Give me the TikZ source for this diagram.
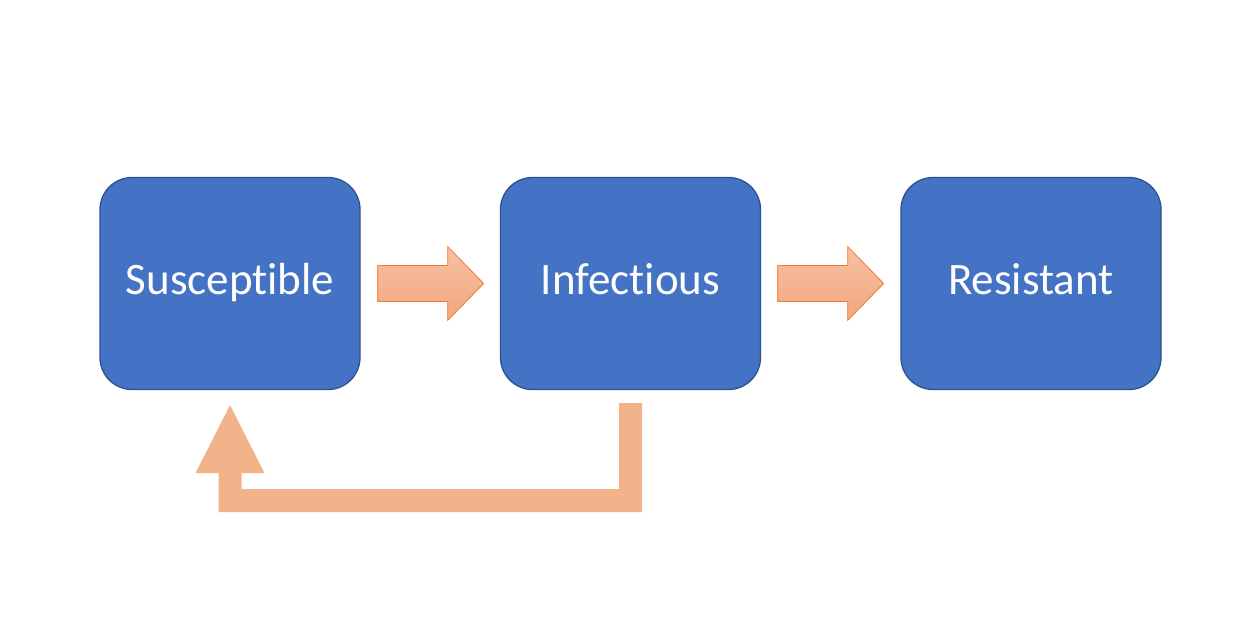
\documentclass[tikz,border=0pt]{standalone}
\usepackage{fontspec}
\setmainfont[Ligatures=NoCommon]{Carlito}
\usetikzlibrary{calc}
\definecolor{boxfill}{HTML}{4472C4}
\definecolor{boxline}{HTML}{2F528F}
\definecolor{arrline}{HTML}{ED7D31}
\definecolor{arrtop}{HTML}{F7C1A3}
\definecolor{arrbot}{HTML}{F3A680}
\definecolor{loopc}{HTML}{F2B38A}
\begin{document}
\begin{tikzpicture}[x=1pt,y=-1pt,
  box/.style={draw=boxline, line width=1.3pt, fill=boxfill, rounded corners=32pt,
    minimum width=260pt, minimum height=212pt, text=white,
    font=\fontsize{45}{54}\selectfont, inner sep=0pt, text height=21pt, text depth=0pt},
  blockarrow/.style={draw=arrline, line width=0.8pt, top color=arrtop, bottom color=arrbot},
  looparrow/.style={fill=loopc, draw=none}]
\useasboundingbox[fill=white] (0,0) rectangle (1256,632);
\node[box] (S) at (230,283.5) {Susceptible};
\node[box] (I) at (630.5,283.5) {Infectious};
\node[box] (R) at (1031,283.5) {Resistant};
% block arrows
\draw[blockarrow] ($(S.east)+(17,-18)$) -- ++(70,0) -- ++(0,-19) -- ++(36,37) -- ++(-36,37) -- ++(0,-19) -- ++(-70,0) -- cycle;
\draw[blockarrow] ($(I.east)+(16.5,-18)$) -- ++(70,0) -- ++(0,-19) -- ++(36,37) -- ++(-36,37) -- ++(0,-19) -- ++(-70,0) -- cycle;
% feedback arrow
\coordinate (a) at ($(I.south)+(0,13)$);
\coordinate (b) at ($(S.south)+(0,15)$);
\fill[looparrow] ($(a)+(-11.5,0)$) -- ($(a)+(11.5,0)$) -- ($(a)+(11.5,109)$)
  -- ($(b)+(-11.5,107)$) -- ($(b)+(-11.5,68)$) -- ($(b)+(-34.5,68)$) -- (b)
  -- ($(b)+(34.5,68)$) -- ($(b)+(11.5,68)$) -- ($(b)+(11.5,84)$)
  -- ($(a)+(-11.5,86)$) -- cycle;
\end{tikzpicture}
\end{document}
